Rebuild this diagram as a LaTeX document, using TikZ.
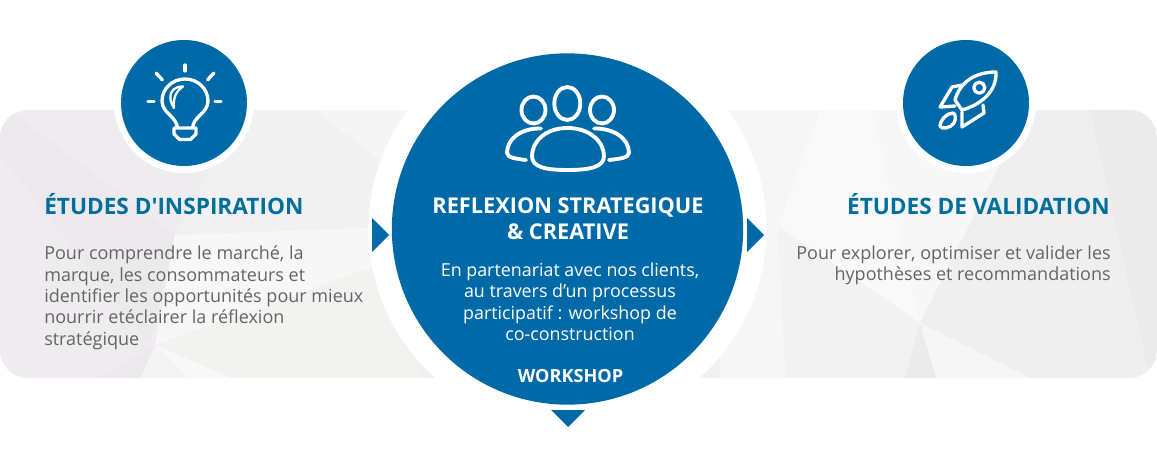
\documentclass[tikz,border=0pt]{standalone}
\usepackage{fontspec}
\setmainfont{Open Sans}
\newfontfamily\plainsans{Open Sans}
\definecolor{brand}{HTML}{0069A7}
\definecolor{head}{HTML}{006F9C}
\definecolor{body}{HTML}{666566}
\tikzset{
  x=0.75pt,y=-0.75pt,
  icon/.style={draw=white,line width=2.9pt,line join=round,line cap=round},
  iconthin/.style={draw=white,line width=2.5pt,line join=round,line cap=round},
  title/.style={inner sep=0pt,text=head,font=\fontsize{16.95pt}{20pt}\plainsans\bfseries},
  bodytext/.style={inner sep=0pt,text=body,font=\fontsize{13.5pt}{16.1pt}\selectfont},
  whitetitle/.style={inner sep=0pt,text=white,font=\fontsize{16.3pt}{19.5pt}\selectfont\bfseries,align=center},
  whitebody/.style={inner sep=0pt,text=white,font=\fontsize{13.4pt}{16pt}\selectfont,align=center},
  disc/.style={circle,fill=brand,inner sep=0pt},
}
\begin{document}
\begin{tikzpicture}
\useasboundingbox (0,0) rectangle (1157,475);
\fill[white] (0,0) rectangle (1157,475);
\begin{scope}
\clip[rounded corners=21pt] (0,110) rectangle (1157,378);
\fill[fill={rgb,255:red,241;green,240;blue,241}] (0,110) rectangle (1157,378);
% left facets
\fill[fill={rgb,255:red,238;green,236;blue,238}] (0,110) -- (240,110) -- (175,235) -- (155,345) -- (100,378) -- (0,378) -- cycle;
\fill[fill={rgb,255:red,235;green,233;blue,235}] (0,110) -- (15,115) -- (175,235) -- (150,345) -- (0,155) -- cycle;
\fill[fill={rgb,255:red,241;green,241;blue,241}] (240,110) -- (315,110) -- (380,160) -- (400,228) -- (175,235) -- cycle;
\fill[fill={rgb,255:red,246;green,245;blue,245}] (315,110) -- (420,110) -- (420,170) -- (380,160) -- cycle;
\fill[fill={rgb,255:red,247;green,247;blue,247}] (175,235) -- (420,226) -- (420,250) -- (155,345) -- cycle;
\fill[fill={rgb,255:red,242;green,242;blue,241}] (155,345) -- (420,250) -- (420,378) -- (232,378) -- cycle;
\fill[fill={rgb,255:red,248;green,248;blue,248}] (155,345) -- (232,378) -- (187,378) -- cycle;
\fill[fill={rgb,255:red,244;green,244;blue,244}] (155,345) -- (187,378) -- (140,378) -- cycle;
\fill[fill={rgb,255:red,235;green,233;blue,235}] (155,345) -- (140,378) -- (100,378) -- cycle;
% right facets
\fill[fill={rgb,255:red,246;green,246;blue,246}] (720,110) -- (820,110) -- (778,226) -- (720,226) -- cycle;
\fill[fill={rgb,255:red,249;green,249;blue,249}] (820,110) -- (873,110) -- (920,323) -- (778,226) -- cycle;
\fill[fill={rgb,255:red,247;green,247;blue,247}] (873,110) -- (1000,110) -- (1000,165) -- (920,323) -- cycle;
\fill[fill={rgb,255:red,246;green,246;blue,246}] (720,226) -- (778,226) -- (786,378) -- (720,378) -- cycle;
\fill[fill={rgb,255:red,242;green,242;blue,242}] (778,226) -- (920,323) -- (905,378) -- (786,378) -- cycle;
\fill[fill={rgb,255:red,240;green,239;blue,240}] (920,323) -- (1000,165) -- (1000,110) -- (1090,110) -- (1150,378) -- (1030,378) -- cycle;
\fill[fill={rgb,255:red,236;green,235;blue,236}] (920,323) -- (936,378) -- (905,378) -- cycle;
\fill[fill={rgb,255:red,246;green,246;blue,246}] (920,323) -- (1030,378) -- (936,378) -- cycle;
\fill[fill={rgb,255:red,236;green,235;blue,236}] (1090,110) -- (1157,110) -- (1157,378) -- (1150,378) -- cycle;
\end{scope}
% white halos
\fill[white] (567.5,229) circle[radius=199];
\fill[white] (184,103) circle[radius=70];
\fill[white] (966,103) circle[radius=70];
% discs
\node[disc,minimum size=263.5pt] (centre) at (567.5,229) {};
\node[disc,minimum size=94.5pt] (leftdisc) at (184,103) {};
\node[disc,minimum size=94.5pt] (rightdisc) at (966,103) {};
% arrowheads
\fill[brand] (372,218) -- (389,235) -- (372,252) -- cycle;
\fill[brand] (747,218) -- (764,235) -- (747,252) -- cycle;
\fill[brand] (551,410) -- (585,410) -- (568,427) -- cycle;
% bulb
\draw[iconthin] (185,65) -- (185,71);
\draw[iconthin] (156,73) -- (162.5,80);
\draw[iconthin] (214,73) -- (207.5,80);
\draw[iconthin] (148,101.7) -- (154,101.7);
\draw[iconthin] (215,101.7) -- (221,101.7);
\draw[iconthin] (177.5,127.5) .. controls (176,116) and (162,113) .. (162,101)
  .. controls (162,89) and (172,79) .. (185,79)
  .. controls (198,79) and (208,89) .. (208,101)
  .. controls (208,113) and (194,116) .. (192.5,127.5);
\draw[iconthin] (174,128) -- (196,128) -- (196,134) -- (190.5,139.5) -- (179.5,139.5) -- (174,134) -- cycle;
\draw[icon,line width=1.7pt] (183,86.5) .. controls (172,86) and (166,96) .. (174,108)
  .. controls (173,98) and (176,91) .. (183,86.5) -- cycle;
% people
\draw[icon] (567.3,103.5) ellipse[x radius=13,y radius=16.5];
\draw[icon] (533.5,110) ellipse[x radius=12,y radius=13.5];
\draw[icon] (602,110) ellipse[x radius=12,y radius=13.5];
\draw[icon] (567.5,128) .. controls (590,128) and (604,142) .. (604,156)
  .. controls (604,167) and (590,170) .. (567.5,170)
  .. controls (545,170) and (532,167) .. (532,156)
  .. controls (532,142) and (545,128) .. (567.5,128) -- cycle;
\draw[icon] (541,128.5) .. controls (522,128) and (507,138) .. (507,153)
  .. controls (507,158) and (518,159) .. (526,160);
\draw[icon] (594,128.5) .. controls (613,128) and (629,138) .. (629,153)
  .. controls (629,158) and (618,159) .. (609,160);
% rocket
\draw[iconthin] (996,72) .. controls (975,72) and (960,82) .. (955,100)
  -- (962,110) .. controls (980,105) and (997,92) .. (996,72) -- cycle;
\draw[iconthin] (979.3,87.7) circle[radius=5.5];
\draw[iconthin] (962,85) -- (952,87) -- (940,107) -- (955,106);
\draw[iconthin] (983,105) -- (984,113) -- (962,127) -- (962,112);
\draw[iconthin] (953,113) .. controls (946,113) and (940,121) .. (940,126)
  .. controls (941,130) and (951,128) .. (954,123) .. controls (956,119) and (956,114) .. (953,113) -- cycle;
% text
\node[title,anchor=base west] (t1) at (44,214.5) {ÉTUDES D'INSPIRATION};
\node[bodytext,anchor=north west,align=left] (b1) at (44,245.5) {Pour comprendre le marché, la\\marque, les consommateurs et\\identifier les opportunités pour mieux\\nourrir etéclairer la réflexion\\stratégique};
\node[title,anchor=base east] (t3) at (1110,214.5) {ÉTUDES DE VALIDATION};
\node[bodytext,anchor=north east,align=right] (b3) at (1111,245.5) {Pour explorer, optimiser et valider les\\hypothèses et recommandations};
\node[whitetitle,anchor=north] (t2) at (568,197) {REFLEXION STRATEGIQUE\\\& CREATIVE};
\node[whitebody,anchor=north] (b2) at (570,262.5) {En partenariat avec nos clients,\\au travers d’un processus\\participatif : workshop de\\co-construction};
\node[inner sep=0pt,text=white,font=\fontsize{13.6pt}{16pt}\selectfont\bfseries,anchor=base] (w) at (570.5,382.5) {WORKSHOP};
\end{tikzpicture}
\end{document}
